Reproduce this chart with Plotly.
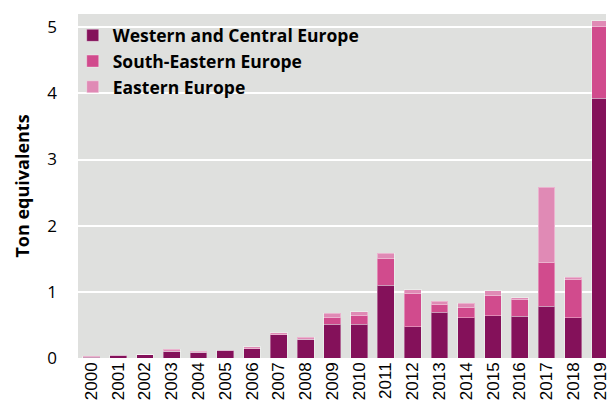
import plotly.graph_objects as go

# Seizures by region, ton equivalents, 2000-2019
years = [str(y) for y in range(2000, 2020)]
western_central = [0.01, 0.04, 0.05, 0.10, 0.09, 0.12, 0.14, 0.35, 0.28, 0.51,
                   0.51, 1.10, 0.47, 0.69, 0.61, 0.64, 0.63, 0.78, 0.61, 3.93]
south_eastern = [0.02, 0.00, 0.00, 0.00, 0.00, 0.00, 0.00, 0.00, 0.00, 0.10,
                 0.13, 0.41, 0.51, 0.12, 0.16, 0.30, 0.25, 0.67, 0.58, 1.08]
eastern = [0.00, 0.00, 0.00, 0.03, 0.01, 0.00, 0.03, 0.03, 0.03, 0.07,
           0.06, 0.07, 0.05, 0.05, 0.06, 0.08, 0.03, 1.13, 0.03, 0.09]

series = [
    ("Western and Central Europe", western_central, "#84115A"),
    ("South-Eastern Europe", south_eastern, "#D14B8D"),
    ("Eastern Europe", eastern, "#E08AB5"),
]

fig = go.Figure()
for name, vals, color in series:
    fig.add_trace(go.Bar(
        x=years, y=vals, name=name,
        marker=dict(color=color, line=dict(color="rgba(255,255,255,0.35)", width=1)),
    ))

fig.update_layout(
    width=610, height=405,
    margin=dict(l=78, r=0, t=14, b=47),
    barmode="stack", bargap=0.37,
    plot_bgcolor="#DFE0DE", paper_bgcolor="white",
    showlegend=True,
    legend=dict(
        x=-0.01, y=0.99, xanchor="left", yanchor="top",
        bgcolor="rgba(0,0,0,0)", traceorder="normal",
        font=dict(family="Open Sans", size=17.5, color="black", weight="bold"),
        itemwidth=30, tracegroupgap=0,
    ),
    xaxis=dict(
        type="category", range=[-0.5, 19.22],
        tickangle=-90, showgrid=False, ticks="",
        tickfont=dict(family="Liberation Sans", size=17, color="black"),
    ),
    yaxis=dict(
        range=[0, 5.2], tickvals=[0, 1, 2, 3, 4, 5],
        showgrid=True, gridcolor="white", gridwidth=1.5, zeroline=False,
        ticks="", ticklabelstandoff=20,
        tickfont=dict(family="Open Sans", size=17, color="black"),
        title=dict(text="Ton equivalents", standoff=12,
                   font=dict(family="Open Sans", size=18, color="black", weight="bold")),
    ),
)

fig.write_html("out.html")
